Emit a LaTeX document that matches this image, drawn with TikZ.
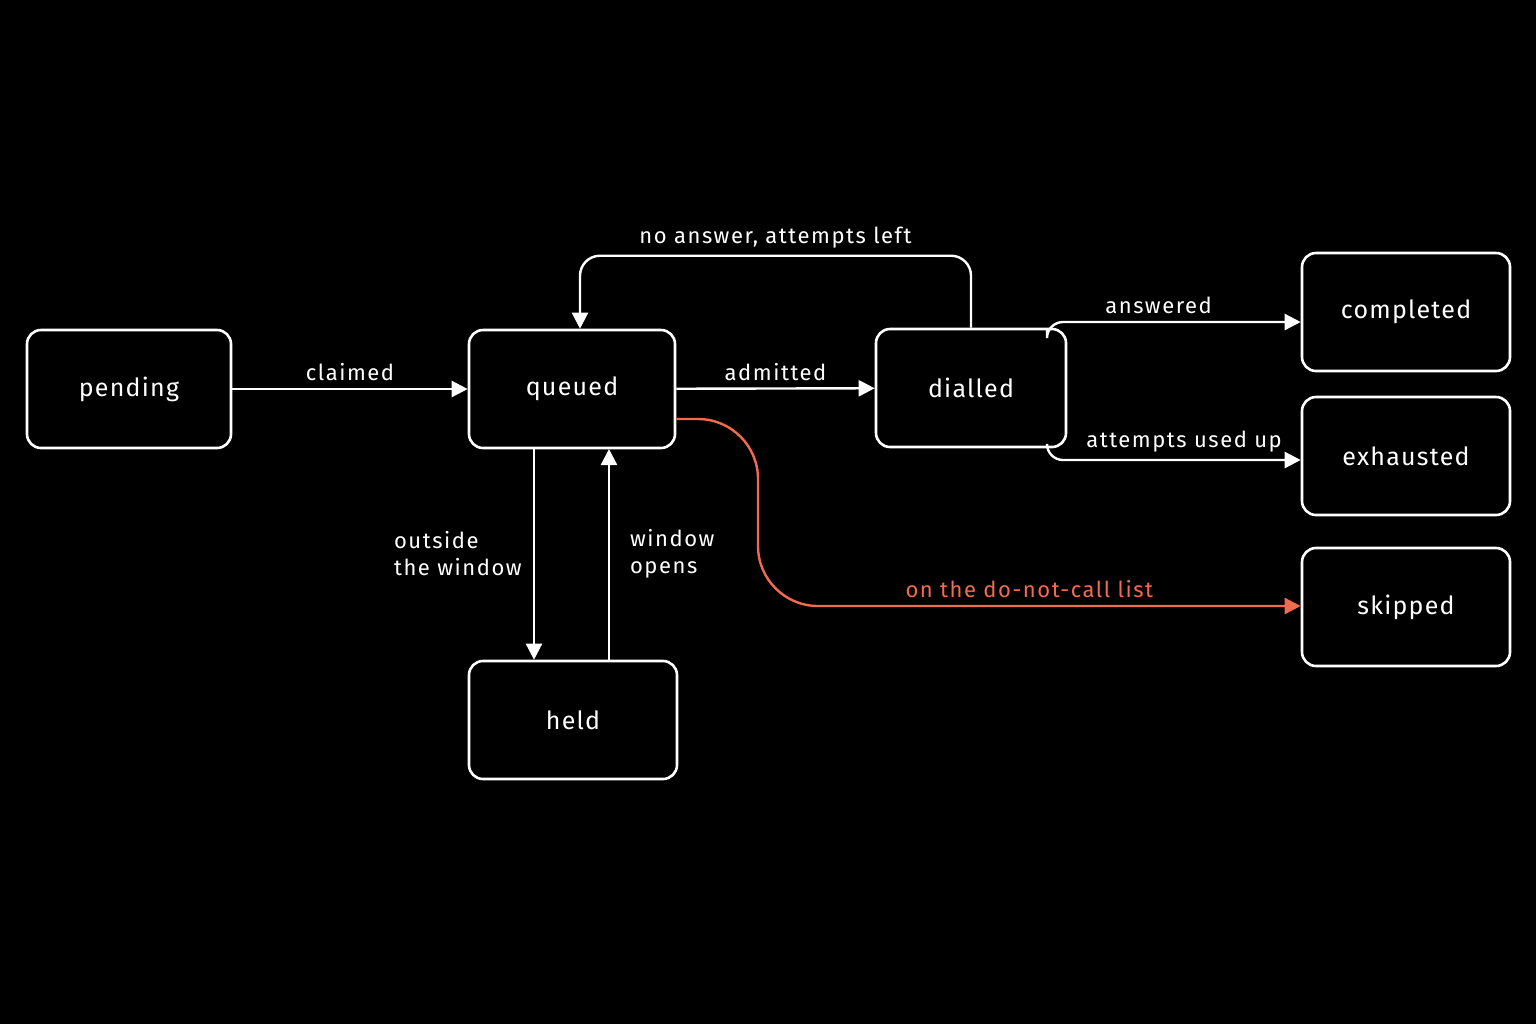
\documentclass[tikz,border=0pt]{standalone}
\usepackage{fontspec}
\setmainfont{Fira Sans}
\usetikzlibrary{arrows.meta}
\definecolor{dnc}{HTML}{F26B50}
\begin{document}
\begin{tikzpicture}
                \tikzset{x=0.5pt, y=-0.5pt}
                \tikzstyle{state}=[rectangle, rounded corners=7pt, draw=white, line width=1.3pt, fill=black, text=white, minimum height=59pt, font=\fontsize{12.5}{14}\selectfont\addfontfeature{LetterSpace=5}]
                \tikzstyle{lbl}=[text=white, font=\fontsize{11}{13.5}\selectfont\addfontfeature{LetterSpace=7}, align=left]
                \tikzstyle{edge}=[draw=white, line width=1.2pt, rounded corners=10pt, -{Triangle[length=8pt,width=8pt]}]

                \fill[black] (0,0) rectangle (1536,1024);

                \draw (129, 389)    node[state, minimum width=102pt]  (pending)   {pending};
                \draw (572, 389)    node[state, minimum width=103pt]  (queued)    {queued};
                \draw (971, 388)    node[state, minimum width=95pt]   (dialled)   {dialled};
                \draw (573, 720)    node[state, minimum width=104pt]  (held)      {held};
                \draw (1406, 312)   node[state, minimum width=104pt]  (completed) {completed};
                \draw (1406, 456)   node[state, minimum width=104pt]  (exhausted) {exhausted};
                \draw (1406, 607)   node[state, minimum width=104pt]  (skipped)   {skipped};

                \coordinate (ans) at (1047, 330);
                \coordinate (used) at (1047, 446);

                \draw [edge]        (pending) -- node[lbl, above] {claimed} (queued);
                \draw [edge]        (queued) -- node[lbl, above] {admitted} (dialled);
                \draw [edge]        (dialled.north) -- ++(0,-72) -| node[lbl, above, pos=0.25] {no answer,\ attempts left} ([xshift=4pt]queued.north);
                \draw [edge, rounded corners=8pt] (ans) |- node[lbl, above, pos=0.72] {answered} (completed.west |- 0,322);
                \draw [edge, rounded corners=8pt] (used) |- node[lbl, above, pos=0.77] {attempts used up} (exhausted.west |- 0,460);
                \draw [edge, draw=dnc, rounded corners=30pt] ([yshift=-15pt]queued.east) -| (758,606) -- node[lbl, text=dnc, above, pos=0.5] {on the do-not-call list} (skipped.west |- 0,606);
                \draw [edge, rounded corners=0pt] (534,449) -- (held.north -| 534,0);
                \draw [edge, rounded corners=0pt] (held.north -| 609,0) -- (609,449);

                \draw (387, 554)    node[lbl, anchor=west] {outside\\the window};
                \draw (623, 554)    node[lbl, anchor=west] {window\\opens};
            \end{tikzpicture}
\end{document}
